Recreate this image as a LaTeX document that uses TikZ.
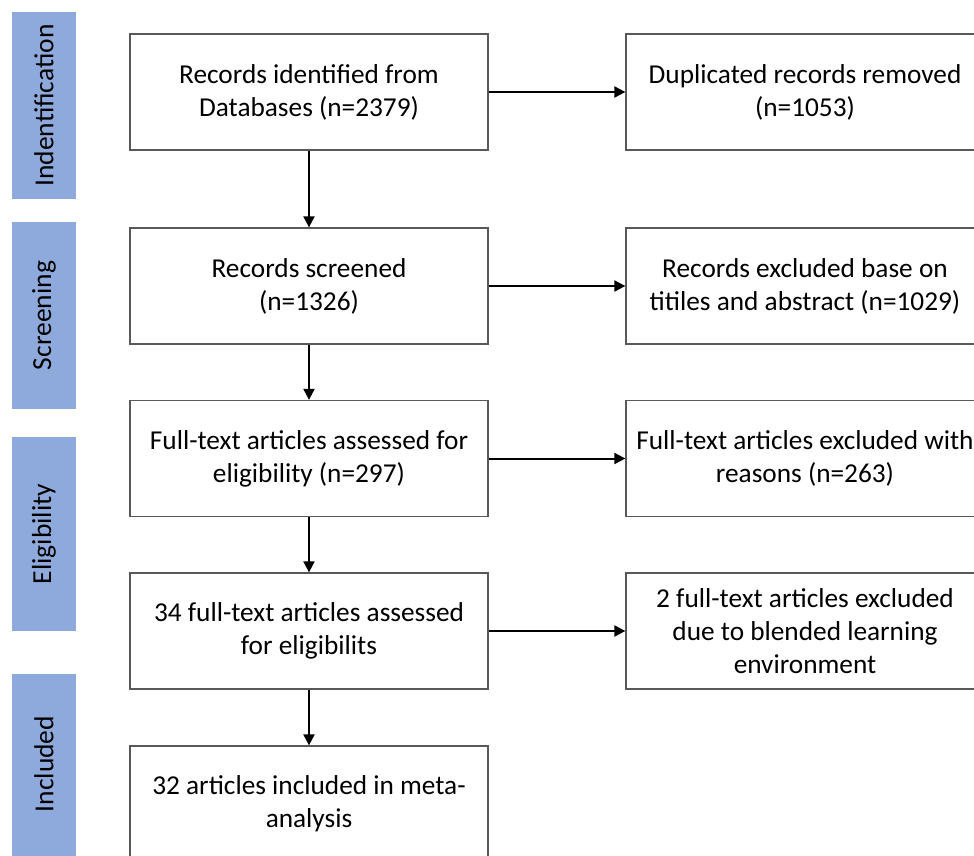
\documentclass[tikz,border=0pt]{standalone}
\usepackage{fontspec}
\setmainfont{Carlito}
\usetikzlibrary{arrows.meta}
\definecolor{barblue}{RGB}{142,169,219}
\definecolor{boxline}{RGB}{89,89,89}
\begin{document}
\begin{tikzpicture}[x=1pt,y=-1pt,
  bar/.style={fill=barblue,draw=none},
  bartext/.style={rotate=90,font=\fontsize{27.5}{30}\selectfont,text=black},
  box/.style={draw=boxline,line width=1.3pt,fill=white,minimum width=358pt,minimum height=116pt,align=center,font=\fontsize{27.3}{33}\selectfont,inner sep=0pt},
  arr/.style={line width=2pt,-{Triangle[length=11pt,width=11pt]}}]
\useasboundingbox (0,0) rectangle (974,855);
\clip (0,0) rectangle (974,855);
% stage bars
\fill[bar] (12,12) rectangle (76,199);
\node[bartext] (s1) at (44,105.5) {Indentification};
\fill[bar] (12,222) rectangle (76,409);
\node[bartext] (s2) at (44,315.5) {Screening};
\fill[bar] (12,437) rectangle (76,631);
\node[bartext] (s3) at (44,534) {Eligibility};
\fill[bar] (12,674) rectangle (76,870);
\node[bartext] (s4) at (44,764) {Included};
% left column
\node[box] (b1) at (309,92) {Records identified from\\Databases (n=2379)};
\node[box] (b2) at (309,286) {Records screened\\(n=1326)};
\node[box] (b3) at (309,458.5) {Full-text articles assessed for\\eligibility (n=297)};
\node[box] (b4) at (309,631) {34 full-text articles assessed\\for eligibilits};
\node[box] (b5) at (309,804) {32 articles included in meta-\\analysis};
% right column
\node[box] (r1) at (805,92) {Duplicated records removed\\(n=1053)};
\node[box] (r2) at (805,286) {Records excluded base on\\titiles and abstract (n=1029)};
\node[box] (r3) at (805,458.5) {Full-text articles excluded with\\reasons (n=263)};
\node[box] (r4) at (805,631) {2 full-text articles excluded\\due to blended learning\\environment};
% connectors
\draw[arr] (b1) -- (b2);
\draw[arr] (b2) -- (b3);
\draw[arr] (b3) -- (b4);
\draw[arr] (b4) -- (b5);
\draw[arr] (b1) -- (r1);
\draw[arr] (b2) -- (r2);
\draw[arr] (b3) -- (r3);
\draw[arr] (b4) -- (r4);
\end{tikzpicture}
\end{document}
